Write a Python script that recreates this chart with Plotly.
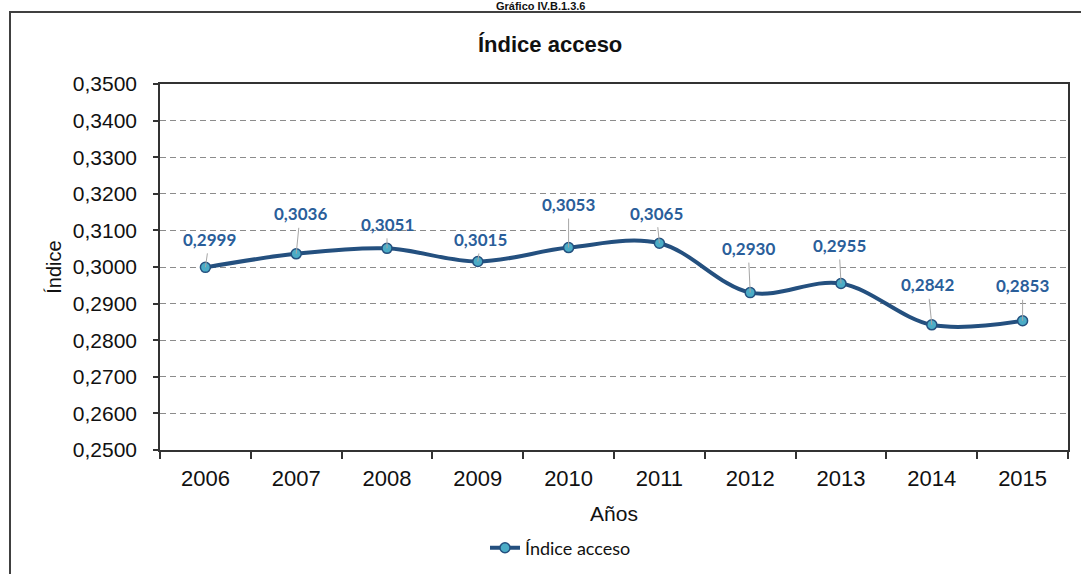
import plotly.graph_objects as go

# Índice de acceso por año
years = ["2006", "2007", "2008", "2009", "2010", "2011", "2012", "2013", "2014", "2015"]
indice_acceso = [0.2999, 0.3036, 0.3051, 0.3015, 0.3053, 0.3065, 0.2930, 0.2955, 0.2842, 0.2853]
y_ticks = [0.25, 0.26, 0.27, 0.28, 0.29, 0.30, 0.31, 0.32, 0.33, 0.34, 0.35]

# pixel offsets of each data label relative to its point
label_offsets = [(4, -28), (4, -40), (0, -24), (3, -22), (0, -43),
                 (-3, -30), (-2, -44), (-2, -38), (-4, -40), (0, -35)]

W, H = 1081, 574
L, R, T, B = 160, 13, 84, 124
pw, ph = W - L - R, H - T - B


def px_x(px):
    return (px - L) / pw


def px_y(py):
    return (H - B - py) / ph


def fmt(v):
    return f"{v:.4f}".replace(".", ",")


line_color = "#24507F"
label_color = "#2A5E9A"

fig = go.Figure()
fig.add_trace(go.Scatter(
    x=years, y=indice_acceso, mode="lines+markers", name="Índice acceso",
    line=dict(color=line_color, width=4, shape="spline", smoothing=1.0),
    marker=dict(size=10, color="#4BACC6", line=dict(color=line_color, width=1.5)),
))

annotations = []
for i, (v, (dx, dy)) in enumerate(zip(indice_acceso, label_offsets)):
    annotations.append(dict(
        x=i, y=v, xref="x", yref="y", text=fmt(v),
        showarrow=True, arrowhead=0, arrowwidth=1, arrowcolor="#A6A6A6",
        ax=dx, ay=dy, standoff=0, startstandoff=2,
        font=dict(family="Lato", size=17, color=label_color, weight="bold"),
    ))

annotations += [
    dict(text="<b>Índice acceso</b>", xref="paper", yref="paper",
         x=px_x(550), y=px_y(44), xanchor="center", yanchor="middle",
         showarrow=False, font=dict(family="Liberation Sans", size=22, color="#111111")),
    dict(text="<b>Gráfico IV.B.1.3.6</b>", xref="paper", yref="paper",
         x=px_x(540), y=px_y(6), xanchor="center", yanchor="middle",
         showarrow=False, font=dict(family="Liberation Sans", size=11, color="#111111")),
]

fig.update_layout(
    width=W, height=H,
    margin=dict(l=L, r=R, t=T, b=B, autoexpand=False),
    paper_bgcolor="white", plot_bgcolor="white",
    font=dict(family="Liberation Sans", color="#111111"),
    annotations=annotations,
    showlegend=True,
    legend=dict(orientation="h", x=px_x(485), y=px_y(548), xanchor="left", yanchor="middle",
                font=dict(family="Lato", size=18, color="#111111"),
                bgcolor="rgba(0,0,0,0)"),
    shapes=[dict(type="path", xref="paper", yref="paper",
                 path=f"M {px_x(10)},{px_y(600)} L {px_x(10)},{px_y(12)} L {px_x(1100)},{px_y(12)}",
                 line=dict(color="#404040", width=2))],
)

fig.update_xaxes(
    type="category", range=[-0.5, len(years) - 0.5], automargin=False,
    showline=True, mirror=True, linecolor="#333333", linewidth=1.5,
    ticks="outside", tickson="boundaries", ticklen=7, tickcolor="#333333", tickwidth=1.5,
    ticklabelstandoff=8,
    showgrid=False,
    tickfont=dict(family="Liberation Sans", size=22, color="#111111"),
    title=dict(text="Años", font=dict(family="Liberation Sans", size=21, color="#111111"), standoff=16),
)
fig.update_yaxes(
    range=[0.25, 0.35], tickvals=y_ticks, ticktext=[fmt(v) for v in y_ticks], automargin=False,
    showline=True, mirror=True, linecolor="#333333", linewidth=1.5,
    ticks="outside", ticklen=5, tickcolor="#333333", tickwidth=1.5,
    ticklabelstandoff=12,
    showgrid=True, gridcolor="#8C8C8C", gridwidth=1.4, griddash="6px,4px",
    zeroline=False,
    tickfont=dict(family="Liberation Sans", size=21, color="#111111"),
    title=dict(text="Índice", font=dict(family="Liberation Sans", size=20, color="#111111"), standoff=6),
)

fig.write_html("out.html")
